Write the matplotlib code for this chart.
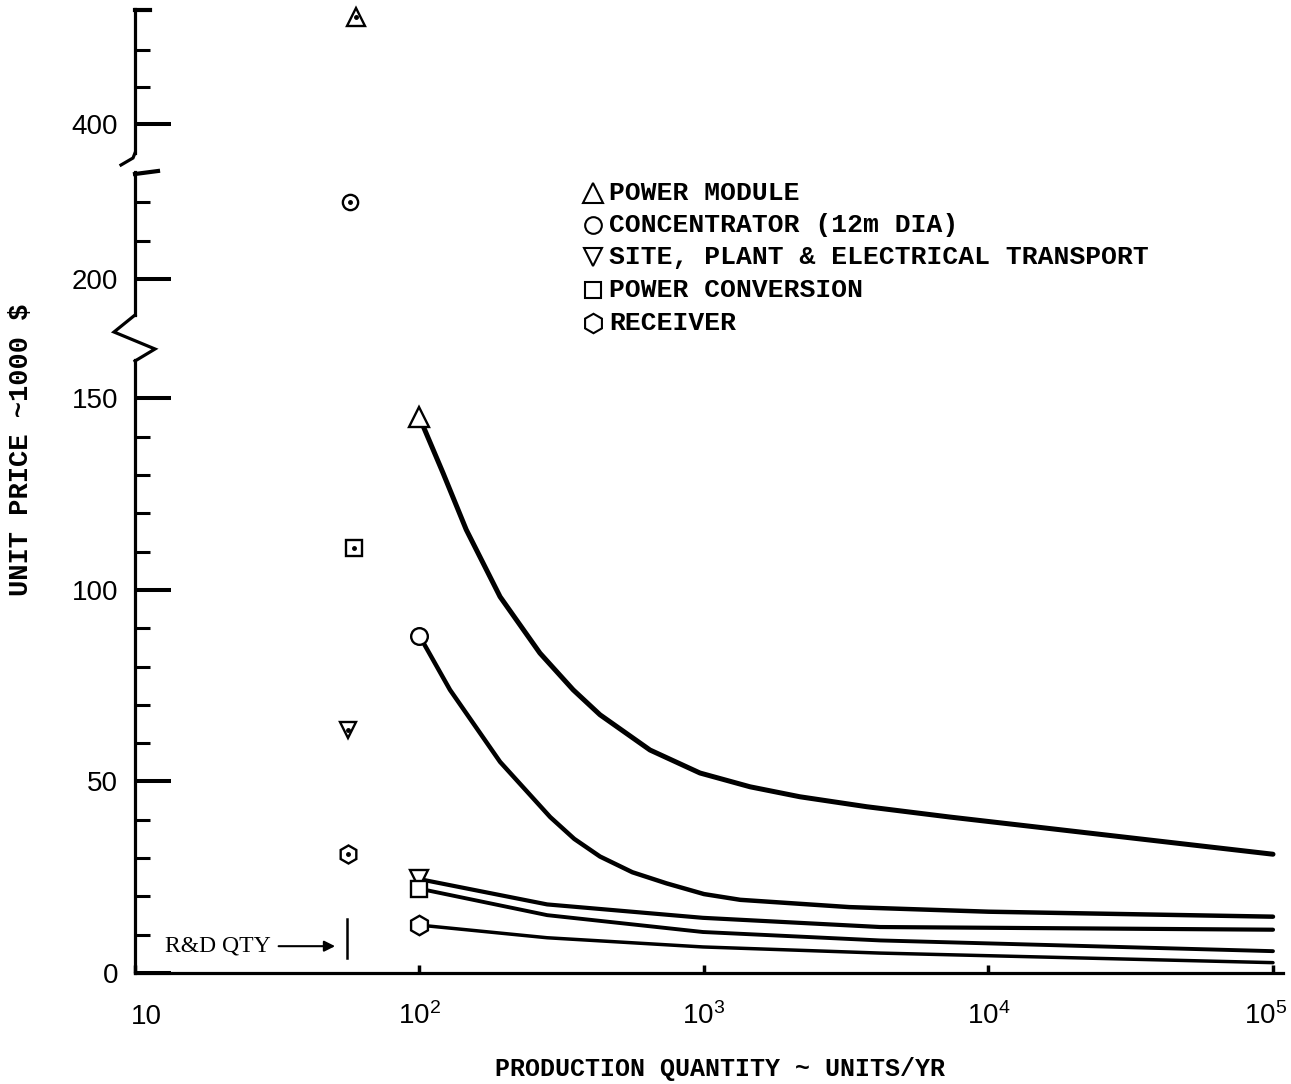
import numpy as np
import matplotlib
matplotlib.use("Agg")
import matplotlib.pyplot as plt
from matplotlib.lines import Line2D
from matplotlib.ticker import NullLocator
from matplotlib.transforms import ScaledTranslation

plt.rcParams["font.family"] = ["Liberation Sans", "DejaVu Sans"]
plt.rcParams["mathtext.fontset"] = "custom"
plt.rcParams["mathtext.rm"] = "Liberation Sans"
plt.rcParams["mathtext.it"] = "Liberation Sans:italic"
plt.rcParams["mathtext.bf"] = "Liberation Sans:bold"

# ---------------- data ----------------
series_names = ["POWER MODULE", "CONCENTRATOR (12m DIA)",
                "SITE, PLANT & ELECTRICAL TRANSPORT", "POWER CONVERSION", "RECEIVER"]
series_markers = ["^", "o", "v", "s", "h"]

power_x = [100, 121, 146, 192, 265, 347, 431, 646, 968, 1452, 2173, 3733, 7330, 100000]
power_y = [145, 130.5, 115.7, 98.2, 83.5, 73.9, 67.4, 58.2, 52.2, 48.6, 46.0, 43.4, 40.7, 31]

conc_x = [100, 128, 192, 288, 350, 431, 560, 738, 1000, 1341, 3240, 10000, 100000]
conc_y = [88, 73.9, 55.1, 40.7, 35.0, 30.4, 26.3, 23.4, 20.6, 19.1, 17.2, 16.0, 14.7]

site_x = [100, 281, 991, 4160, 100000]
site_y = [24.5, 17.9, 14.4, 12.0, 11.3]

conv_x = [100, 281, 991, 4160, 100000]
conv_y = [22, 15.1, 10.7, 8.5, 5.7]

recv_x = [100, 281, 991, 4160, 100000]
recv_y = [12.5, 9.2, 6.8, 5.2, 2.7]

# R&D quantity unit prices (single points)
rd_x = [60, 57, 56, 59, 56]
rd_y = [429, 220, 63.5, 111, 31]

rd_qty_x = 55.6
rd_qty_y = [4, 14]

xticks = [10, 100, 1000, 10000, 100000]
xtick_labels = ["10", r"$\mathregular{10^{2}}$", r"$\mathregular{10^{3}}$",
                r"$\mathregular{10^{4}}$", r"$\mathregular{10^{5}}$"]

# ---------------- figure ----------------
W, H = 1291, 1084
fig = plt.figure(figsize=(W / 100, H / 100), dpi=100)


def fx(p):
    return p / W


def fy(p):
    return 1 - p / H


LEFT, RIGHT = 135, 1282.5
XMIN, XMAX = 10, 1.08e5
SP_LW = 2.3


def add_ax(top_px, bottom_px, ylim):
    ax = fig.add_axes([fx(LEFT), fy(bottom_px), (RIGHT - LEFT) / W, (bottom_px - top_px) / H])
    ax.set_xscale("log")
    ax.set_xlim(XMIN, XMAX)
    ax.set_ylim(*ylim)
    ax.patch.set_visible(False)
    for s in ["top", "right"]:
        ax.spines[s].set_visible(False)
    ax.spines["left"].set_linewidth(SP_LW)
    ax.spines["bottom"].set_linewidth(SP_LW)
    ax.tick_params(axis="y", which="major", direction="in", length=26, width=2.9,
                   pad=12, labelsize=20)
    ax.tick_params(axis="y", which="minor", direction="in", length=11, width=2.2)
    ax.xaxis.set_minor_locator(NullLocator())
    return ax


ax0 = add_ax(360, 973, (0, 160))
ax1 = add_ax(172, 315, (190.6, 227.9))
ax2 = add_ax(9, 153, (392.2, 431.1))

for ax in (ax1, ax2):
    ax.spines["bottom"].set_visible(False)
    ax.tick_params(axis="x", which="both", bottom=False, labelbottom=False)

ax0.set_yticks([0, 50, 100, 150], ["0", "50", "100", "150"])
ax0.set_yticks([10, 20, 30, 40, 60, 70, 80, 90, 110, 120, 130, 140], minor=True)
ax1.set_yticks([200], ["200"])
ax1.set_yticks([210, 220], minor=True)
ax2.set_yticks([400], ["400"])
ax2.set_yticks([410, 420], minor=True)

ax0.set_xticks(xticks, xtick_labels)
ax0.tick_params(axis="x", which="major", direction="in", length=6, width=2.5,
                pad=37, labelsize=20)
xlabels = ax0.get_xticklabels()
for lbl in xlabels:
    lbl.set_verticalalignment("baseline")
xlabels[0].set_transform(xlabels[0].get_transform() +
                         ScaledTranslation(8 / 72, 0, fig.dpi_scale_trans))
xlabels[-1].set_transform(xlabels[-1].get_transform() +
                          ScaledTranslation(-5 / 72, 0, fig.dpi_scale_trans))

# ---------------- curves ----------------
curves = [(power_x, power_y, 3.6), (conc_x, conc_y, 3.2), (site_x, site_y, 3.0),
          (conv_x, conv_y, 2.8), (recv_x, recv_y, 2.5)]
msizes = {"^": 14, "o": 12, "v": 13, "s": 12, "h": 14}
for (xs, ys, lw), m in zip(curves, series_markers):
    ax0.plot(xs, ys, color="black", lw=lw, solid_capstyle="round",
             solid_joinstyle="round",
             marker=m, markevery=[0], ms=msizes[m], mfc="white", mec="black",
             mew=1.7, clip_on=False, zorder=3)

# R&D points
rd_axes = [ax2, ax1, ax0, ax0, ax0]
for ax, m, x, y in zip(rd_axes, series_markers, rd_x, rd_y):
    ax.plot([x], [y], linestyle="none", marker=m, ms=msizes[m] - 1, mfc="white",
            mec="black", mew=1.7, clip_on=False, zorder=4)
    ax.plot([x], [y], linestyle="none", marker="o", ms=2.5, color="black",
            clip_on=False, zorder=5)

# R&D quantity marker
ax0.plot([rd_qty_x, rd_qty_x], rd_qty_y, color="black", lw=1.8)
ax0.annotate("R&D QTY", xy=(50.5, 7.0), xytext=(12.7, 7.0),
             ha="left", va="center", fontsize=17, family="Liberation Serif",
             arrowprops=dict(arrowstyle="-|>", color="black", lw=1.5,
                             mutation_scale=16, shrinkA=4, shrinkB=0))

# ---------------- axis break decorations ----------------
def figline(xs, ys, lw=SP_LW):
    fig.add_artist(Line2D([fx(x) for x in xs], [fy(y) for y in ys],
                          transform=fig.transFigure, color="black", lw=lw,
                          solid_joinstyle="miter"))


figline([LEFT, 114, 155, LEFT], [315, 332, 349, 361])      # zigzag between lower & middle
figline([LEFT, 133, 121], [153, 158, 165])                 # curl under upper segment
figline([LEFT, 158], [174, 171], lw=3.0)                   # hook on top of middle segment
figline([LEFT, 150], [10, 10], lw=3.0)                     # top cap of upper segment

# ---------------- labels ----------------
mono = "Liberation Mono"
ax0.set_ylabel("UNIT PRICE ~1000 $", family=mono, fontsize=19.5, weight="bold")
ax0.yaxis.set_label_coords(-0.088, 0.853)
ax0.set_xlabel("PRODUCTION QUANTITY ~ UNITS/YR", family=mono, fontsize=18, weight="bold")
ax0.xaxis.set_label_coords(0.51, -0.137)

# legend (typed key)
rows_y = [193, 225, 257, 290, 323]
for name, m, ry in zip(series_names, series_markers, rows_y):
    fig.add_artist(Line2D([fx(593)], [fy(ry)], transform=fig.transFigure,
                          linestyle="none", marker=m, ms=msizes[m],
                          mfc="white", mec="black", mew=1.5))
    fig.text(fx(609), fy(ry), name, family=mono, fontsize=19, weight="bold",
             va="center", ha="left")

fig.savefig("out.png", dpi=100)
